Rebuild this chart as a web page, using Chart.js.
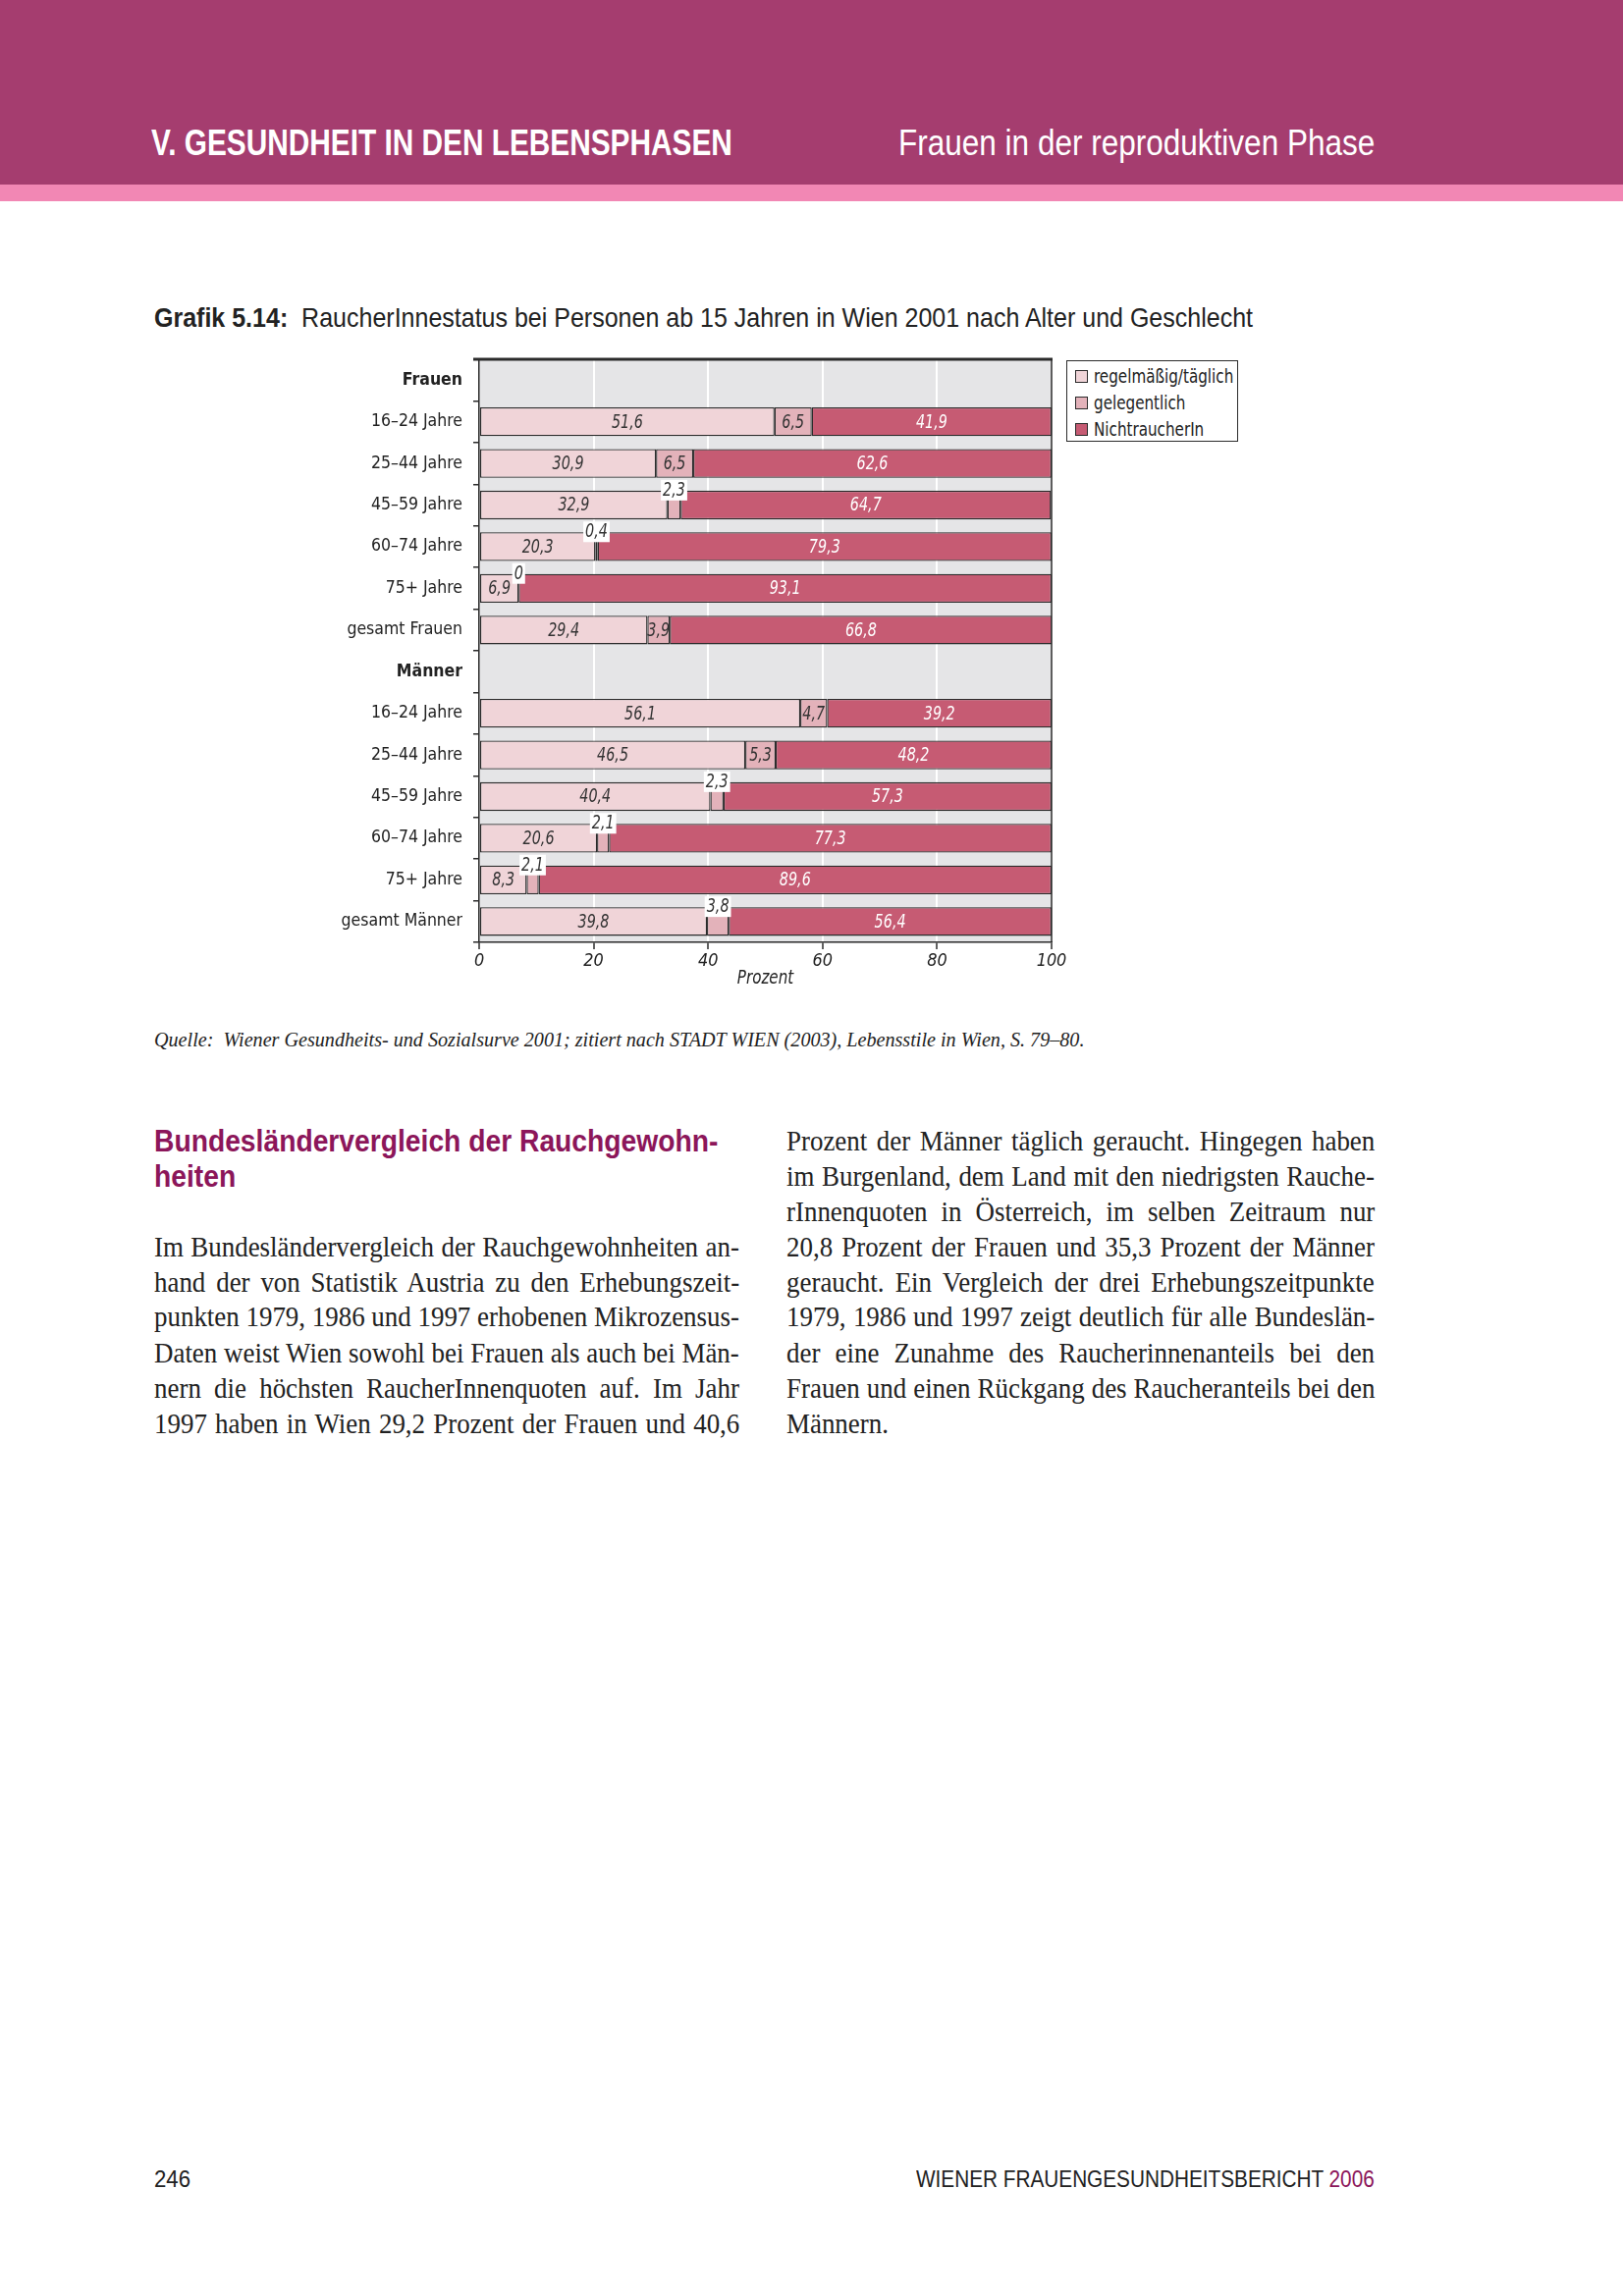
<!DOCTYPE html>
<html lang="de"><head><meta charset="utf-8">
<script src="https://cdn.jsdelivr.net/npm/chart.js@4.4.1/dist/chart.umd.min.js"></script>
<style>
html,body{margin:0;padding:0;background:#fff;}
body{width:1653px;height:2339px;position:relative;overflow:hidden;font-family:'Liberation Sans Narrow','Liberation Sans',Arial,sans-serif;color:#222;}
.band{position:absolute;left:0;top:0;width:1653px;height:188px;background:#a53d6f;}
.stripe{position:absolute;left:0;top:188px;width:1653px;height:17px;background:#f287b4;}
.fit{position:absolute;white-space:nowrap;transform-origin:0 50%;line-height:1;}
.hdr{color:#fff;font-size:36px;}
.serif{font-family:'Liberation Serif','Times New Roman',serif;}
.body{font-size:29px;color:#222;}
.head2{color:#8c165a;font-weight:bold;font-size:31px;}
#chartWrap{position:absolute;left:300px;top:340px;width:1000px;height:700px;}
#legend{position:absolute;left:1086px;top:367px;width:173px;height:81px;border:1.5px solid #2b2b2b;background:#fff;}
.li{position:absolute;left:8px;height:20px;display:flex;align-items:center;white-space:nowrap;color:#222;}
.sw{width:11px;height:11px;border:1px solid #2b2b2b;margin-right:6px;flex:none;}
.lt{display:inline-block;transform-origin:0 50%;font-size:19px;line-height:1;}
</style></head>
<body>
<div class="band"></div><div class="stripe"></div>
<div class="fit hdr" style="font-weight:bold" data-x="154" data-cy="146" data-w="592">V. GESUNDHEIT IN DEN LEBENSPHASEN</div>
<div class="fit hdr" data-x="915" data-cy="146" data-w="485">Frauen in der reproduktiven Phase</div>

<div class="fit" style="font-size:28px" data-x="157" data-cy="324" data-w="1119"><b>Grafik 5.14:</b>&nbsp; RaucherInnestatus bei Personen ab 15 Jahren in Wien 2001 nach Alter und Geschlecht</div>

<div id="chartWrap"><canvas id="c" width="1000" height="700"></canvas></div>
<div id="legend"></div>

<div class="fit serif" style="font-size:21px;font-style:italic" data-x="157" data-cy="1059" data-w="947">Quelle:&nbsp; Wiener Gesundheits- und Sozialsurve 2001; zitiert nach STADT WIEN (2003), Lebensstile in Wien, S. 79–80.</div>

<div class="fit head2" id="h1" data-x="157" data-cy="1162" data-w="574">Bundesländervergleich der Rauchgewohn-</div>
<div class="fit head2" id="h2" data-x="157" data-cy="1198" data-ref="h1">heiten</div>

<div id="bodytext"></div>

<div class="fit" style="font-size:24px" data-x="157" data-cy="2220" data-w="37">246</div>
<div class="fit" style="font-size:24px" data-x="1400" data-a="r" data-cy="2220" data-w="467">WIENER FRAUENGESUNDHEITSBERICHT <span style="color:#8c165a">2006</span></div>

<script>
// ---------------- DATA ----------------
const categories = ['Frauen','16–24 Jahre','25–44 Jahre','45–59 Jahre','60–74 Jahre','75+ Jahre','gesamt Frauen',
                    'Männer','16–24 Jahre','25–44 Jahre','45–59 Jahre','60–74 Jahre','75+ Jahre','gesamt Männer'];
const groupHeaders = ['Frauen','Männer'];
const seriesNames = ['regelmäßig/täglich','gelegentlich','NichtraucherIn'];
const regelmaessig = [null,51.6,30.9,32.9,20.3,6.9,29.4,null,56.1,46.5,40.4,20.6,8.3,39.8];
const gelegentlich = [null,6.5,6.5,2.3,0.4,0,3.9,null,4.7,5.3,2.3,2.1,2.1,3.8];
const nichtraucher = [null,41.9,62.6,64.7,79.3,93.1,66.8,null,39.2,48.2,57.3,77.3,89.6,56.4];
const xTickValues = [0,20,40,60,80,100];
const xTitle = 'Prozent';
// rows whose "gelegentlich" label is printed above the (narrow) segment
const labelAboveRows = [3,4,5,10,11,12,13];

const leftLines = [
 'Im Bundesländervergleich der Rauchgewohnheiten an-',
 'hand der von Statistik Austria zu den Erhebungszeit-',
 'punkten 1979, 1986 und 1997 erhobenen Mikrozensus-',
 'Daten weist Wien sowohl bei Frauen als auch bei Män-',
 'nern die höchsten RaucherInnenquoten auf. Im Jahr',
 '1997 haben in Wien 29,2 Prozent der Frauen und 40,6'];
const rightLines = [
 'Prozent der Männer täglich geraucht. Hingegen haben',
 'im Burgenland, dem Land mit den niedrigsten Rauche-',
 'rInnenquoten in Österreich, im selben Zeitraum nur',
 '20,8 Prozent der Frauen und 35,3 Prozent der Männer',
 'geraucht. Ein Vergleich der drei Erhebungszeitpunkte',
 '1979, 1986 und 1997 zeigt deutlich für alle Bundeslän-',
 'der eine Zunahme des Raucherinnenanteils bei den',
 'Frauen und einen Rückgang des Raucheranteils bei den',
 'Männern.'];

// ---------------- STYLE ----------------
const colors = ['#f0d4d8','#e3b2ba','#c65b73'];
const labelColors = ['#333','#333','#fff'];

function fontAvailable(name){
  const c=document.createElement('canvas').getContext('2d');
  const s='abcdefghijklmnopqrstuvwxyz0123456789ABCDEF';
  c.font='40px monospace'; const a=c.measureText(s).width;
  c.font='40px "'+name+'", monospace'; const b=c.measureText(s).width;
  return Math.abs(a-b)>0.5;
}
const NARROW = ['Liberation Sans Narrow','Arial Narrow','DejaVu Sans Condensed','Roboto Condensed'].find(fontAvailable);
const FAM = NARROW ? "'"+NARROW+"', 'Liberation Sans', sans-serif" : "'Liberation Sans', Arial, sans-serif";
const TRUE_NARROW = (NARROW==='Liberation Sans Narrow' || NARROW==='Arial Narrow');
const FS = TRUE_NARROW ? 1 : (NARROW ? 0.92 : 0.86);   // font size factor for library-drawn ticks
const CX = TRUE_NARROW ? 1 : (NARROW ? 0.84 : 0.78);   // horizontal condense for plugin-drawn text
const px = v => +(v*FS).toFixed(1);

// legend (HTML)
const lg=document.getElementById('legend');
const legendTexts=[];
seriesNames.forEach((n,i)=>{
  const d=document.createElement('div'); d.className='li'; d.style.top=(5+i*27)+'px';
  d.innerHTML='<span class="sw" style="background:'+colors[i]+'"></span><span class="lt">'+n+'</span>';
  d.querySelector('.lt').style.fontFamily=FAM;
  lg.appendChild(d); legendTexts.push(d.querySelector('.lt'));
});
const legScale = 142/legendTexts[0].offsetWidth;
legendTexts.forEach(t=>{ t.style.transform='scaleX('+legScale+')'; });

// body text lines
const bt=document.getElementById('bodytext');
const ys=[1162,1198,1234,1270,1306,1341,1378,1414,1450];
function addLine(txt,x,cy,w,just){
  const d=document.createElement('div'); d.className='fit serif body'; d.textContent=txt;
  d.dataset.x=x; d.dataset.cy=cy; d.dataset.bw=w; d.dataset.j=just?'1':'0';
  bt.appendChild(d); return d;
}
const bodyEls=[];
leftLines.forEach((t,i)=>bodyEls.push(addLine(t,157,ys[i+3],596,true)));
rightLines.forEach((t,i)=>bodyEls.push(addLine(t,801,ys[i],599,i<rightLines.length-1)));

function layoutText(){
  const scales={};
  document.querySelectorAll('.fit').forEach(el=>{
    if(el.dataset.bw) return;
    el.style.transform='none';
    const nw=el.offsetWidth, nh=el.offsetHeight;
    let s;
    if(el.dataset.w){ s=(+el.dataset.w)/nw; } else { s=scales[el.dataset.ref]||1; }
    if(el.id) scales[el.id]=s;
    const x=+el.dataset.x, w=nw*s;
    el.style.left=(el.dataset.a==='r'? x-w : x)+'px';
    el.style.top=(+el.dataset.cy - nh/2)+'px';
    el.style.transform='scaleX('+s+')';
  });
  let sMin=1;
  bodyEls.forEach(el=>{ if(el.dataset.j==='1'){ const r=(+el.dataset.bw)/el.offsetWidth; if(r<sMin) sMin=r; }});
  const s=Math.max(0.8,Math.min(sMin,0.95));
  bodyEls.forEach(el=>{
    const W=+el.dataset.bw, w0=el.offsetWidth, nh=el.offsetHeight;
    const n=(el.textContent.match(/ /g)||[]).length;
    el.style.left=el.dataset.x+'px'; el.style.top=(+el.dataset.cy-nh/2)+'px';
    if(el.dataset.j==='1'){
      if(w0*s<W && n>0){ el.style.wordSpacing=((W/s-w0)/n)+'px'; el.style.transform='scaleX('+s+')'; }
      else el.style.transform='scaleX('+(W/w0)+')';
    } else el.style.transform='scaleX('+s+')';
  });
}
layoutText();

// ---------------- CHART ----------------
const fmt = v => v===0 ? '0' : v.toFixed(1).replace('.',',');

function condText(ctx,txt,x,y){
  ctx.save(); ctx.translate(x,y); ctx.scale(CX,1); ctx.fillText(txt,0,0); ctx.restore();
}

const framePlugin = {
  id:'frame',
  beforeDraw(chart){
    const {ctx,chartArea:a}=chart;
    ctx.save(); ctx.fillStyle='#e5e5e7'; ctx.fillRect(a.left,a.top,a.right-a.left,a.bottom-a.top); ctx.restore();
  },
  afterDatasetsDraw(chart){
    const {ctx,chartArea:a}=chart;
    ctx.save();
    ctx.strokeStyle='#2b2b2b';
    ctx.lineWidth=3; ctx.beginPath(); ctx.moveTo(a.left-6,a.top); ctx.lineTo(a.right+1,a.top); ctx.stroke();
    ctx.lineWidth=1.5; ctx.beginPath(); ctx.moveTo(a.right,a.top); ctx.lineTo(a.right,a.bottom); ctx.stroke();
    ctx.textAlign='center'; ctx.textBaseline='middle';
    ctx.font='italic 19px '+FAM;
    chart.data.datasets.forEach((ds,di)=>{
      const meta=chart.getDatasetMeta(di);
      meta.data.forEach((el,i)=>{
        const v=ds.data[i]; if(v===null||v===undefined) return;
        const p=el.getProps(['x','y','base','height'],true);
        const cx=(p.x+p.base)/2, txt=fmt(v);
        if(di===1 && labelAboveRows.includes(i)){
          const top=p.y-p.height/2;
          const tw=ctx.measureText(txt).width*CX;
          ctx.fillStyle='#fff'; ctx.fillRect(cx-tw/2-2,top-11,tw+4,21);
          ctx.fillStyle='#333'; condText(ctx,txt,cx,top);
        } else {
          ctx.fillStyle=labelColors[di]; condText(ctx,txt,cx,p.y+1);
        }
      });
    });
    ctx.font='italic 20px '+FAM; ctx.fillStyle='#222';
    condText(ctx,xTitle,(a.left+a.right)/2,a.bottom+37);
    ctx.restore();
  }
};

const datasets=[regelmaessig,gelegentlich,nichtraucher].map((d,i)=>({
  label:seriesNames[i], data:d, backgroundColor:colors[i],
  borderColor:'#2b2b2b', borderWidth:1.3, borderSkipped:false,
  barPercentage:0.69, categoryPercentage:1.0
}));

new Chart(document.getElementById('c'),{
  type:'bar',
  data:{labels:categories,datasets},
  plugins:[framePlugin],
  options:{
    indexAxis:'y', responsive:false, animation:false, devicePixelRatio:1,
    layout:{padding:{top:26,right:229,bottom:0,left:0}},
    plugins:{legend:{display:false},tooltip:{enabled:false}},
    scales:{
      x:{
        stacked:true, min:0, max:100,
        afterBuildTicks(s){ s.ticks=xTickValues.map(v=>({value:v})); },
        afterFit(s){ s.height=80; },
        grid:{
          color:c=>(c.tick && c.tick.value>0 && c.tick.value<100)?'#ffffff':'rgba(0,0,0,0)',
          lineWidth:2, tickColor:'#2b2b2b', tickWidth:1.5, tickLength:7, drawTicks:true
        },
        border:{display:true,color:'#2b2b2b',width:1.5},
        ticks:{color:'#222',padding:2,maxRotation:0,font:{family:FAM,size:px(19.5),style:'italic'}}
      },
      y:{
        stacked:true,
        afterFit(s){ s.width=188; },
        grid:{offset:true,drawOnChartArea:false,drawTicks:true,tickLength:6,color:'#2b2b2b',lineWidth:1.5},
        border:{display:true,color:'#2b2b2b',width:1.5},
        ticks:{
          color:'#222', padding:11, autoSkip:false,
          font:c=>groupHeaders.includes(categories[c.index])
            ? {family:FAM,size:px(19),weight:'bold'}
            : {family:FAM,size:px(19)}
        }
      }
    }
  }
});
</script>
</body></html>
